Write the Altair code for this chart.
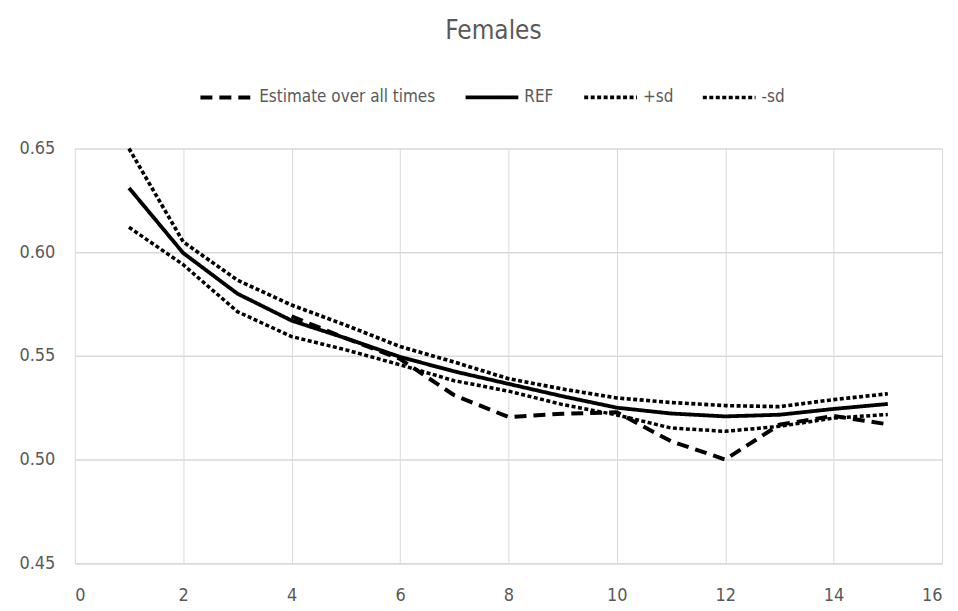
import altair as alt
import pandas as pd

x_ref = list(range(1, 16))
ref = [0.631, 0.5996, 0.580, 0.567, 0.5585, 0.5495, 0.5425, 0.5365, 0.5305, 0.525, 0.5222, 0.5208, 0.5216, 0.5244, 0.5268]
plus_sd = [0.650, 0.605, 0.5865, 0.5745, 0.5648, 0.5545, 0.547, 0.539, 0.534, 0.5297, 0.5275, 0.526, 0.5255, 0.5289, 0.5317]
minus_sd = [0.612, 0.594, 0.5713, 0.5593, 0.5529, 0.5457, 0.538, 0.533, 0.5265, 0.5215, 0.5152, 0.5136, 0.516, 0.520, 0.5217]
x_est = list(range(4, 16))
estimate = [0.569, 0.5585, 0.5485, 0.531, 0.5205, 0.5221, 0.5228, 0.5088, 0.500, 0.5168, 0.521, 0.517]

series_names = ["Estimate over all times", "REF", "+sd", "-sd"]

rows = []
for xv, yv in zip(x_est, estimate):
    rows.append({"x": xv, "y": yv, "series": series_names[0]})
for xv, yv in zip(x_ref, ref):
    rows.append({"x": xv, "y": yv, "series": series_names[1]})
for xv, yv in zip(x_ref, plus_sd):
    rows.append({"x": xv, "y": yv, "series": series_names[2]})
for xv, yv in zip(x_ref, minus_sd):
    rows.append({"x": xv, "y": yv, "series": series_names[3]})
df = pd.DataFrame(rows)

FONT = "'DejaVu Sans Condensed', 'Liberation Sans Narrow', Lato, sans-serif"
GRAY = "#595959"
GRID = "#d9d9d9"

legend = alt.Legend(
    title=None,
    orient="none",
    direction="horizontal",
    columns=4,
    legendX=124,
    legendY=-80,
    symbolType="stroke",
    symbolSize=2800,
    symbolStrokeColor="#000000",
    labelFont=FONT,
    labelFontSize=17,
    labelColor=GRAY,
    labelOffset=4,
    labelLimit=400,
    columnPadding=22,
)

chart = alt.Chart(df).mark_line(color="#000000").encode(
    x=alt.X("x:Q", scale=alt.Scale(domain=[0, 16], nice=False),
            axis=alt.Axis(values=list(range(0, 17, 2)), title=None, grid=True,
                          gridColor=GRID, domainColor=GRID, domainWidth=1.5, ticks=False,
                          labelFont=FONT, labelFontSize=18, labelColor=GRAY,
                          labelPadding=23)),
    y=alt.Y("y:Q", scale=alt.Scale(domain=[0.45, 0.65], nice=False, zero=False),
            axis=alt.Axis(values=[0.45, 0.5, 0.55, 0.6, 0.65], format=".2f", title=None,
                          grid=True, gridColor=GRID, gridWidth=1.5, domain=False, ticks=False,
                          labelFont=FONT, labelFontSize=18, labelColor=GRAY,
                          labelPadding=20)),
    strokeDash=alt.StrokeDash("series:N",
                              scale=alt.Scale(domain=series_names,
                                              range=[[12, 7], [1, 0], [4, 2.5], [4, 2.5]]),
                              legend=legend),
    strokeWidth=alt.StrokeWidth("series:N",
                                scale=alt.Scale(domain=series_names, range=[4, 3.5, 2.8, 2.8]),
                                legend=legend),
    detail="series:N",
).properties(
    width=870,
    height=416,
    title=alt.TitleParams("Females", font=FONT, fontSize=26, fontWeight="normal",
                          color=GRAY, anchor="middle", dx=-15, offset=25),
    autosize=alt.AutoSizeParams(type="none"),
    padding={"left": 67, "top": 140, "right": 8, "bottom": 46},
).configure_view(stroke=None)

chart.save("out.html", embed_options={"renderer": "svg", "actions": False})
